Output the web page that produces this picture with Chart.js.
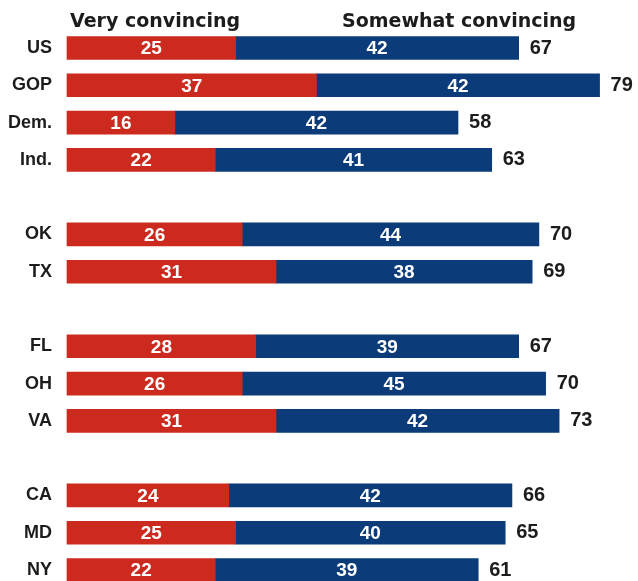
<!DOCTYPE html>
<html>
<head>
<meta charset="utf-8">
<script src="https://cdn.jsdelivr.net/npm/chart.js@4"></script>
<style>
  html, body { margin: 0; padding: 0; background: #fff; }
  #wrap { position: relative; width: 638px; height: 581px; }
</style>
</head>
<body>
<div id="wrap"><canvas id="chart" width="638" height="581"></canvas></div>
<script>
// rows, with blank slots separating the groups
const categories = ['US', 'GOP', 'Dem.', 'Ind.', '', 'OK', 'TX', '', 'FL', 'OH', 'VA', '', 'CA', 'MD', 'NY'];
const veryConvincing = [25, 37, 16, 22, null, 26, 31, null, 28, 26, 31, null, 24, 25, 22];
const somewhatConvincing = [42, 42, 42, 41, null, 44, 38, null, 39, 45, 42, null, 42, 40, 39];
const totals = [67, 79, 58, 63, null, 70, 69, null, 67, 70, 73, null, 66, 65, 61];
const seriesNames = ['Very convincing', 'Somewhat convincing'];

const RED = '#cc2a1e';
const BLUE = '#0b3b78';
const INK = '#1c1c1c';

// numbers inside each segment, totals after the bar, column headers on top
const barText = {
  id: 'barText',
  afterDatasetsDraw(chart) {
    const ctx = chart.ctx;
    ctx.save();
    ctx.textBaseline = 'middle';
    ctx.font = 'bold 19px "Liberation Sans", Arial, sans-serif';
    ctx.fillStyle = '#fff';
    ctx.textAlign = 'center';
    chart.data.datasets.forEach((ds, i) => {
      chart.getDatasetMeta(i).data.forEach((bar, j) => {
        if (ds.data[j] == null) return;
        const p = bar.getCenterPoint();
        ctx.fillText(ds.data[j], p.x, p.y + 1);
      });
    });

    const last = chart.getDatasetMeta(1).data;
    ctx.font = 'bold 20px "Liberation Sans", Arial, sans-serif';
    ctx.fillStyle = INK;
    ctx.textAlign = 'left';
    totals.forEach((t, j) => {
      if (t == null) return;
      ctx.fillText(t, last[j].x + 11, last[j].y);
    });

    ctx.font = 'bold 19px "DejaVu Sans", Verdana, sans-serif';
    ctx.textBaseline = 'alphabetic';
    ctx.fillText(seriesNames[0], chart.chartArea.left + 3, 27);
    ctx.fillText(seriesNames[1], 342, 27);
    ctx.restore();
  }
};

new Chart(document.getElementById('chart'), {
  type: 'bar',
  data: {
    labels: categories,
    datasets: [
      { label: seriesNames[0], data: veryConvincing, backgroundColor: RED, barThickness: 23, clip: false },
      { label: seriesNames[1], data: somewhatConvincing, backgroundColor: BLUE, barThickness: 23, clip: false }
    ]
  },
  options: {
    indexAxis: 'y',
    responsive: false,
    animation: false,
    layout: { padding: { top: 48, bottom: 11, left: 0, right: 0 } },
    plugins: { legend: { display: false }, tooltip: { enabled: false } },
    scales: {
      x: { stacked: true, min: 0, max: 84.7, display: false },
      y: {
        stacked: true,
        offset: false,
        grid: { display: false, drawTicks: false },
        border: { display: false },
        ticks: { padding: 15, color: INK, font: { family: '"Liberation Sans", Arial, sans-serif', size: 18, weight: 'bold' } },
        afterFit(scale) {
          scale.width = 67;
          // rows are placed by the layout padding alone
          scale.paddingTop = 0;
          scale.paddingBottom = 0;
        }
      }
    }
  },
  plugins: [barText]
});
</script>
</body>
</html>
